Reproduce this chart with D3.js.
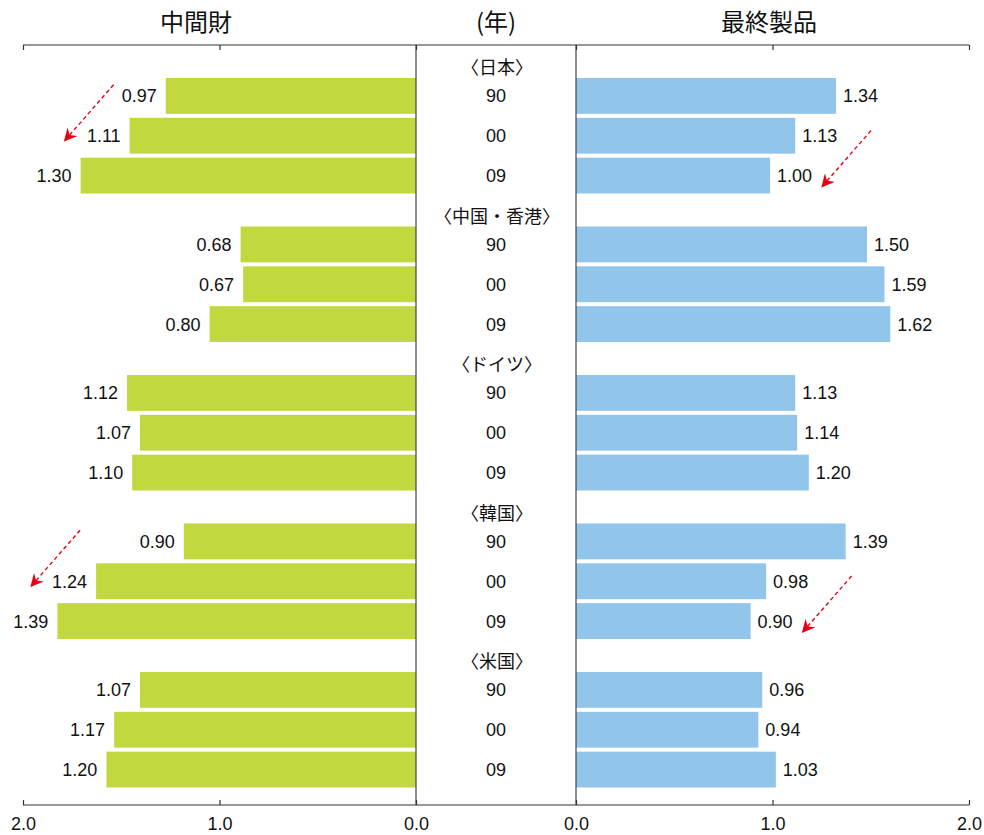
<!DOCTYPE html>
<html>
<head>
<meta charset="utf-8">
<script src="https://cdn.jsdelivr.net/npm/d3@7"></script>
<style>
  body { margin: 0; background: #fff; }
  svg text { font-family: "Liberation Sans", Arial, "Noto Sans CJK JP", sans-serif; fill: #111; }
  .jp { font-family: "Noto Sans CJK JP", sans-serif; }
</style>
</head>
<body>
<svg width="984" height="835"></svg>
<script>
// data
var countries = ["〈日本〉", "〈中国・香港〉", "〈ドイツ〉", "〈韓国〉", "〈米国〉"];
var years = ["90", "00", "09"];
var intermediate = [
  [0.97, 1.11, 1.30],
  [0.68, 0.67, 0.80],
  [1.12, 1.07, 1.10],
  [0.90, 1.24, 1.39],
  [1.07, 1.17, 1.20]
];
var finalGoods = [
  [1.34, 1.13, 1.00],
  [1.50, 1.59, 1.62],
  [1.13, 1.14, 1.20],
  [1.39, 0.98, 0.90],
  [0.96, 0.94, 1.03]
];
var axisTicks = [0, 1, 2];
// arrows: [country index, side, year index]
var arrows = [[0, "left", 1], [0, "right", 2], [3, "left", 1], [3, "right", 2]];

var svg = d3.select("svg");
var yTop = 45, yBottom = 805;
var leftZero = 416, rightZero = 576;

// axis scales
var xL = d3.scaleLinear().domain([2, 0]).range([23, leftZero]);
var xR = d3.scaleLinear().domain([0, 2]).range([rightZero, 969]);
// bar scales (the original left panel is drawn at a larger scale than its axis)
var barL = d3.scaleLinear().domain([0, 1]).range([leftZero, leftZero - 258]);
var barR = d3.scaleLinear().domain([0, 1]).range([rightZero, rightZero + 194]);

var yGroup = d3.scaleBand().domain(countries).range([78, 78 + 148.5 * 5]);
var yYear = d3.scaleBand().domain(years).range([0, 115.5]).paddingInner(0.1);

var rows = [];
countries.forEach(function (c, i) {
  years.forEach(function (yr, j) {
    rows.push({ country: c, ci: i, year: yr, yi: j, inter: intermediate[i][j], fin: finalGoods[i][j] });
  });
});
function rowY(d) { return yGroup(d.country) + yYear(d.year); }
function rowMid(d) { return rowY(d) + yYear.bandwidth() / 2; }

// titles
svg.append("text").attr("class", "jp").attr("x", 196).attr("y", 31).attr("text-anchor", "middle")
  .style("font-size", "24px").text("中間財");
svg.append("text").attr("class", "jp").attr("x", 496).attr("y", 31).attr("text-anchor", "middle")
  .style("font-size", "24px").text("(年)");
svg.append("text").attr("class", "jp").attr("x", 769).attr("y", 31).attr("text-anchor", "middle")
  .style("font-size", "24px").text("最終製品");

// bars
svg.selectAll(".barL").data(rows).enter().append("rect")
  .attr("x", function (d) { return barL(d.inter); })
  .attr("y", rowY)
  .attr("width", function (d) { return leftZero - barL(d.inter); })
  .attr("height", yYear.bandwidth())
  .attr("fill", "#c3d83f");
svg.selectAll(".barR").data(rows).enter().append("rect")
  .attr("x", rightZero)
  .attr("y", rowY)
  .attr("width", function (d) { return barR(d.fin) - rightZero; })
  .attr("height", yYear.bandwidth())
  .attr("fill", "#92c5ea");

// value labels
svg.selectAll(".lblL").data(rows).enter().append("text")
  .attr("x", function (d) { return barL(d.inter) - 9; })
  .attr("y", rowMid)
  .attr("dy", "0.36em").attr("text-anchor", "end").style("font-size", "18px")
  .text(function (d) { return d.inter.toFixed(2); });
svg.selectAll(".lblR").data(rows).enter().append("text")
  .attr("x", function (d) { return barR(d.fin) + 7; })
  .attr("y", rowMid)
  .attr("dy", "0.36em").attr("text-anchor", "start").style("font-size", "18px")
  .text(function (d) { return d.fin.toFixed(2); });

// year labels and country headers
svg.selectAll(".yr").data(rows).enter().append("text")
  .attr("x", 496)
  .attr("y", rowMid)
  .attr("dy", "0.36em").attr("text-anchor", "middle").style("font-size", "18px")
  .text(function (d) { return d.year; });
svg.selectAll(".ctry").data(countries).enter().append("text")
  .attr("class", "jp")
  .attr("x", 497)
  .attr("y", function (c) { return yGroup(c) - 10; })
  .attr("dy", "0.35em").attr("text-anchor", "middle").style("font-size", "18px")
  .text(function (c) { return c; });

// axes
function lineAcross(y) {
  svg.append("line").attr("x1", 23).attr("x2", 969).attr("y1", y).attr("y2", y)
    .attr("stroke", "#333").attr("stroke-width", 1.2);
}
lineAcross(yTop);
lineAcross(yBottom);
[leftZero, rightZero].forEach(function (x) {
  svg.append("line").attr("x1", x).attr("x2", x).attr("y1", yTop).attr("y2", yBottom)
    .attr("stroke", "#444").attr("stroke-width", 1.2);
});

function styleAxis(g) {
  g.select(".domain").remove();
  g.selectAll(".tick line").attr("stroke", "#333").attr("stroke-width", 1.2);
  g.selectAll(".tick text").style("font-size", "18px").attr("fill", "#111")
    .attr("font-family", "Liberation Sans, Arial, sans-serif");
}
[xL, xR].forEach(function (sc) {
  svg.append("g").attr("transform", "translate(0," + yTop + ")")
    .call(d3.axisBottom(sc).tickValues(axisTicks).tickSizeInner(5).tickSizeOuter(0).tickFormat(""))
    .call(styleAxis);
  svg.append("g").attr("transform", "translate(0," + yBottom + ")")
    .call(d3.axisBottom(sc).tickValues(axisTicks).tickSizeInner(-5).tickSizeOuter(0).tickPadding(12).tickFormat(d3.format(".1f")))
    .call(styleAxis);
});

// red dashed arrows
svg.append("defs").append("marker")
  .attr("id", "arrowhead").attr("viewBox", "0 0 12 12").attr("refX", 11).attr("refY", 6)
  .attr("markerWidth", 13).attr("markerHeight", 13).attr("markerUnits", "userSpaceOnUse")
  .attr("orient", "auto")
  .append("path").attr("d", "M0,0 L12,6 L0,12 L4,6 Z").attr("fill", "#e60012");
svg.selectAll(".arrow").data(arrows).enter().append("line")
  .each(function (a) {
    var ci = a[0], side = a[1], yi = a[2];
    var yc = yGroup(countries[ci]) + yYear(years[yi]) + yYear.bandwidth() / 2;
    var tx, ty;
    if (side === "left") {
      tx = barL(intermediate[ci][yi]) - 65; ty = yc + 5;
    } else {
      tx = barR(finalGoods[ci][yi]) + 52; ty = yc + 11;
    }
    d3.select(this).attr("x1", tx + 49).attr("y1", ty - 56).attr("x2", tx).attr("y2", ty);
  })
  .attr("stroke", "#e60012").attr("stroke-width", 1.4).attr("stroke-dasharray", "4,3")
  .attr("marker-end", "url(#arrowhead)");
</script>
</body>
</html>
